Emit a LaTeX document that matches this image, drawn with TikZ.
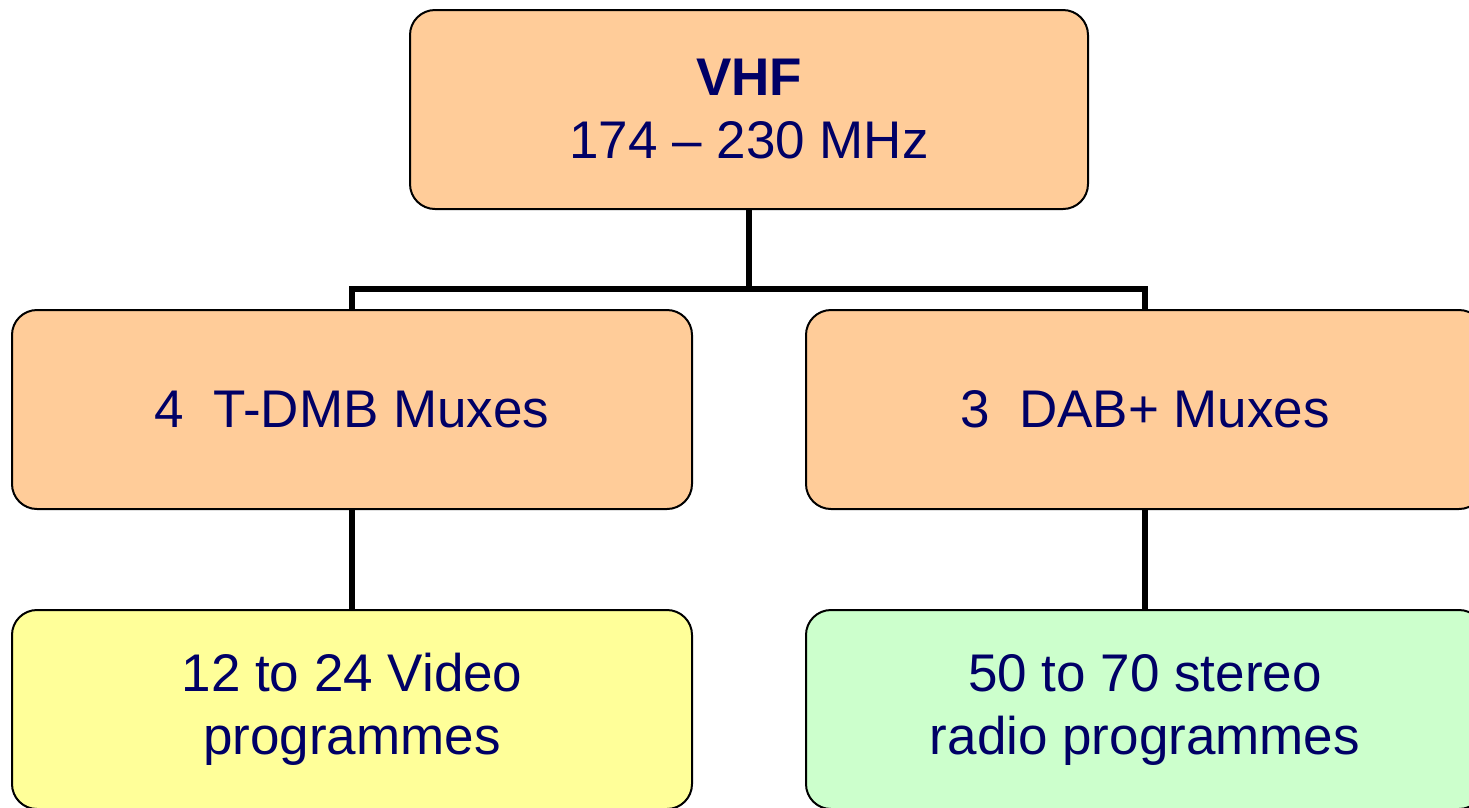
\documentclass[tikz,border=0pt]{standalone}
\usepackage{fontspec}
\setmainfont{Liberation Sans}
\definecolor{txt}{HTML}{000066}
\definecolor{orangefill}{HTML}{FFCC99}
\definecolor{yellowfill}{HTML}{FFFF99}
\definecolor{greenfill}{HTML}{CCFFCC}
\begin{document}
\begin{tikzpicture}[x=1pt,y=1pt,
  box/.style={draw=black, line width=2pt, rounded corners=25pt, inner sep=0pt,
    minimum width=678pt, minimum height=199pt, align=center, text=txt,
    font=\fontsize{53}{63}\selectfont},
  conn/.style={draw=black, line width=6pt}]
\useasboundingbox (0,0) rectangle (1469,-807);
\node[box, fill=orangefill] (top) at (749,-109.5) {\textbf{VHF}\\174 – 230 MHz};
\node[box, fill=orangefill, minimum width=680pt] (tdmb) at (352,-409.5) {4\ \ T-DMB Muxes};
\node[box, fill=orangefill] (dab) at (1145,-409.5) {3\ \ DAB+ Muxes};
\node[box, fill=yellowfill, minimum width=680pt] (video) at (352,-709.5) {12 to 24 Video\\programmes};
\node[box, fill=greenfill] (radio) at (1145,-709.5) {50 to 70 stereo\\radio programmes};
\coordinate (bus) at (749,-289);
\draw[conn] (top.south) -- (bus);
\draw[conn] (tdmb.north) |- (bus) -| (dab.north);
\draw[conn] (tdmb.south) -- (video.north);
\draw[conn] (dab.south) -- (radio.north);
\end{tikzpicture}
\end{document}
